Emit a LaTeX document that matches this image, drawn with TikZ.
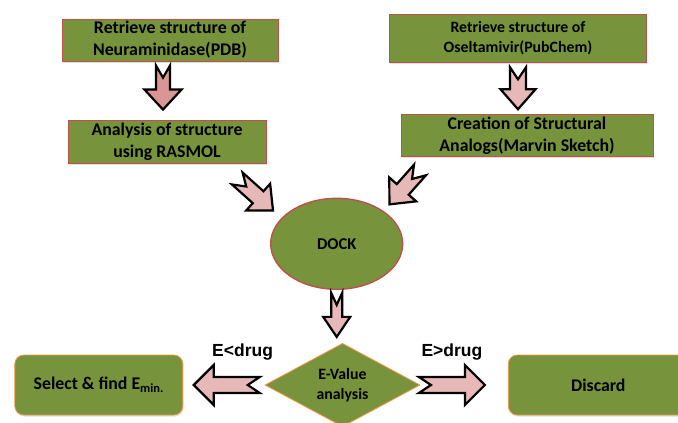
\documentclass[tikz,border=0pt]{standalone}
\usepackage{fontspec}
\setmainfont{Carlito}
\newfontfamily\lblfont{Liberation Sans}
\usepackage{tikz}
\usetikzlibrary{shapes.geometric,shadows,calc}
\definecolor{boxgreen}{HTML}{77933C}
\definecolor{redline}{HTML}{C0504D}
\definecolor{orangeline}{HTML}{F79646}
\definecolor{pinkfill}{HTML}{E6B9B8}
\definecolor{pinkdark}{HTML}{D99694}

\begin{document}
\begin{tikzpicture}[x=1pt, y=-1pt, font=\bfseries\fontsize{17.8}{22}\selectfont,
  pics/fatarrow/.style n args={3}{code={
    \filldraw[blk] ({-#1/2},{-#3}) -- ({#1/2-20},{-#3}) -- ({#1/2-20},{-#2}) -- ({#1/2},0)
      -- ({#1/2-20},{#2}) -- ({#1/2-20},{#3}) -- ({-#1/2},{#3}) -- ({-#1/2+12},0) -- cycle;}}]
\tikzstyle{box}=[rectangle, draw=redline, line width=0.8pt, fill=boxgreen, align=center, inner sep=0pt, drop shadow={opacity=0.25, shadow xshift=0.8pt, shadow yshift=-1.6pt}]
\tikzstyle{rbox}=[box, rounded corners=9pt, draw=orangeline, minimum height=60]
\tikzstyle{blk}=[draw=black, fill=pinkfill, line width=2.2pt]
\tikzstyle{onpath}=[pos=.5, sloped, allow upside down]
\tikzstyle{lbl}=[font=\lblfont\bfseries\fontsize{17.5}{20}\selectfont]
\useasboundingbox (0,0) rectangle (678,423);
\clip (0,0) rectangle (678,423);
\node[box, minimum width=216, minimum height=42] (RN) at (170,40) {Retrieve structure of\\Neuraminidase(PDB)};
\node[box, minimum width=198, minimum height=43] (AR) at (167,141.5) {Analysis of structure\\using RASMOL};
\node[box, minimum width=257, minimum height=48, font=\bfseries\fontsize{15.8}{20}\selectfont] (RO) at (518,38) {Retrieve structure of\\Oseltamivir(PubChem)};
\node[box, minimum width=252, minimum height=42] (CA) at (527,135.5) {Creation of Structural\\Analogs(Marvin Sketch)};
\node[ellipse, draw=redline, line width=1.4pt, fill=boxgreen, minimum width=132, minimum height=91, inner sep=0pt, font=\bfseries\fontsize{16.5}{19}\selectfont] (D) at (336.7,243.8) {DOCK};
\node[diamond, draw=orangeline, line width=0.8pt, fill=boxgreen, minimum width=155, minimum height=83.4, aspect=1.86, inner sep=0pt, align=center, font=\bfseries\fontsize{15.8}{19.5}\selectfont] (EV) at (342.5,385) {E-Value\\analysis};
\node[rbox, minimum width=168] (S) at (98.8,385) {Select \& find E\textsubscript{min.}};
\node[rbox, minimum width=180] (X) at (598.3,385) {Discard};
\path ([xshift=-7pt]RN.south) -- ([xshift=-7pt]RN.south |- AR.north) pic[onpath, pos=.45, blk/.append style={fill=pinkdark}]{fatarrow={44}{18.5}{7}};
\path (RO.south) -- (RO.south |- CA.north) pic[onpath]{fatarrow={42}{17.5}{8}};
\path ([xshift=-46pt]AR.south east) -- (D.155) pic[onpath, pos=.57]{fatarrow={48}{18}{8}};
\path ([xshift=31pt]CA.south west) -- (D.35) pic[onpath, pos=.56]{fatarrow={46}{18}{8}};
\path (D.south) -- (D.south |- EV.north) pic[onpath, pos=.47]{fatarrow={44}{13.5}{5.5}};
\path (EV.west) -- (S.east) pic[onpath, pos=.465]{fatarrow={66}{20}{8}} node[lbl, pos=.27, yshift=33pt]{E<drug};
\path (EV.east) -- (X.west) pic[onpath, pos=.36]{fatarrow={66}{20}{8}} node[lbl, pos=.36, yshift=33pt]{E>drug};
\end{tikzpicture}
\end{document}
